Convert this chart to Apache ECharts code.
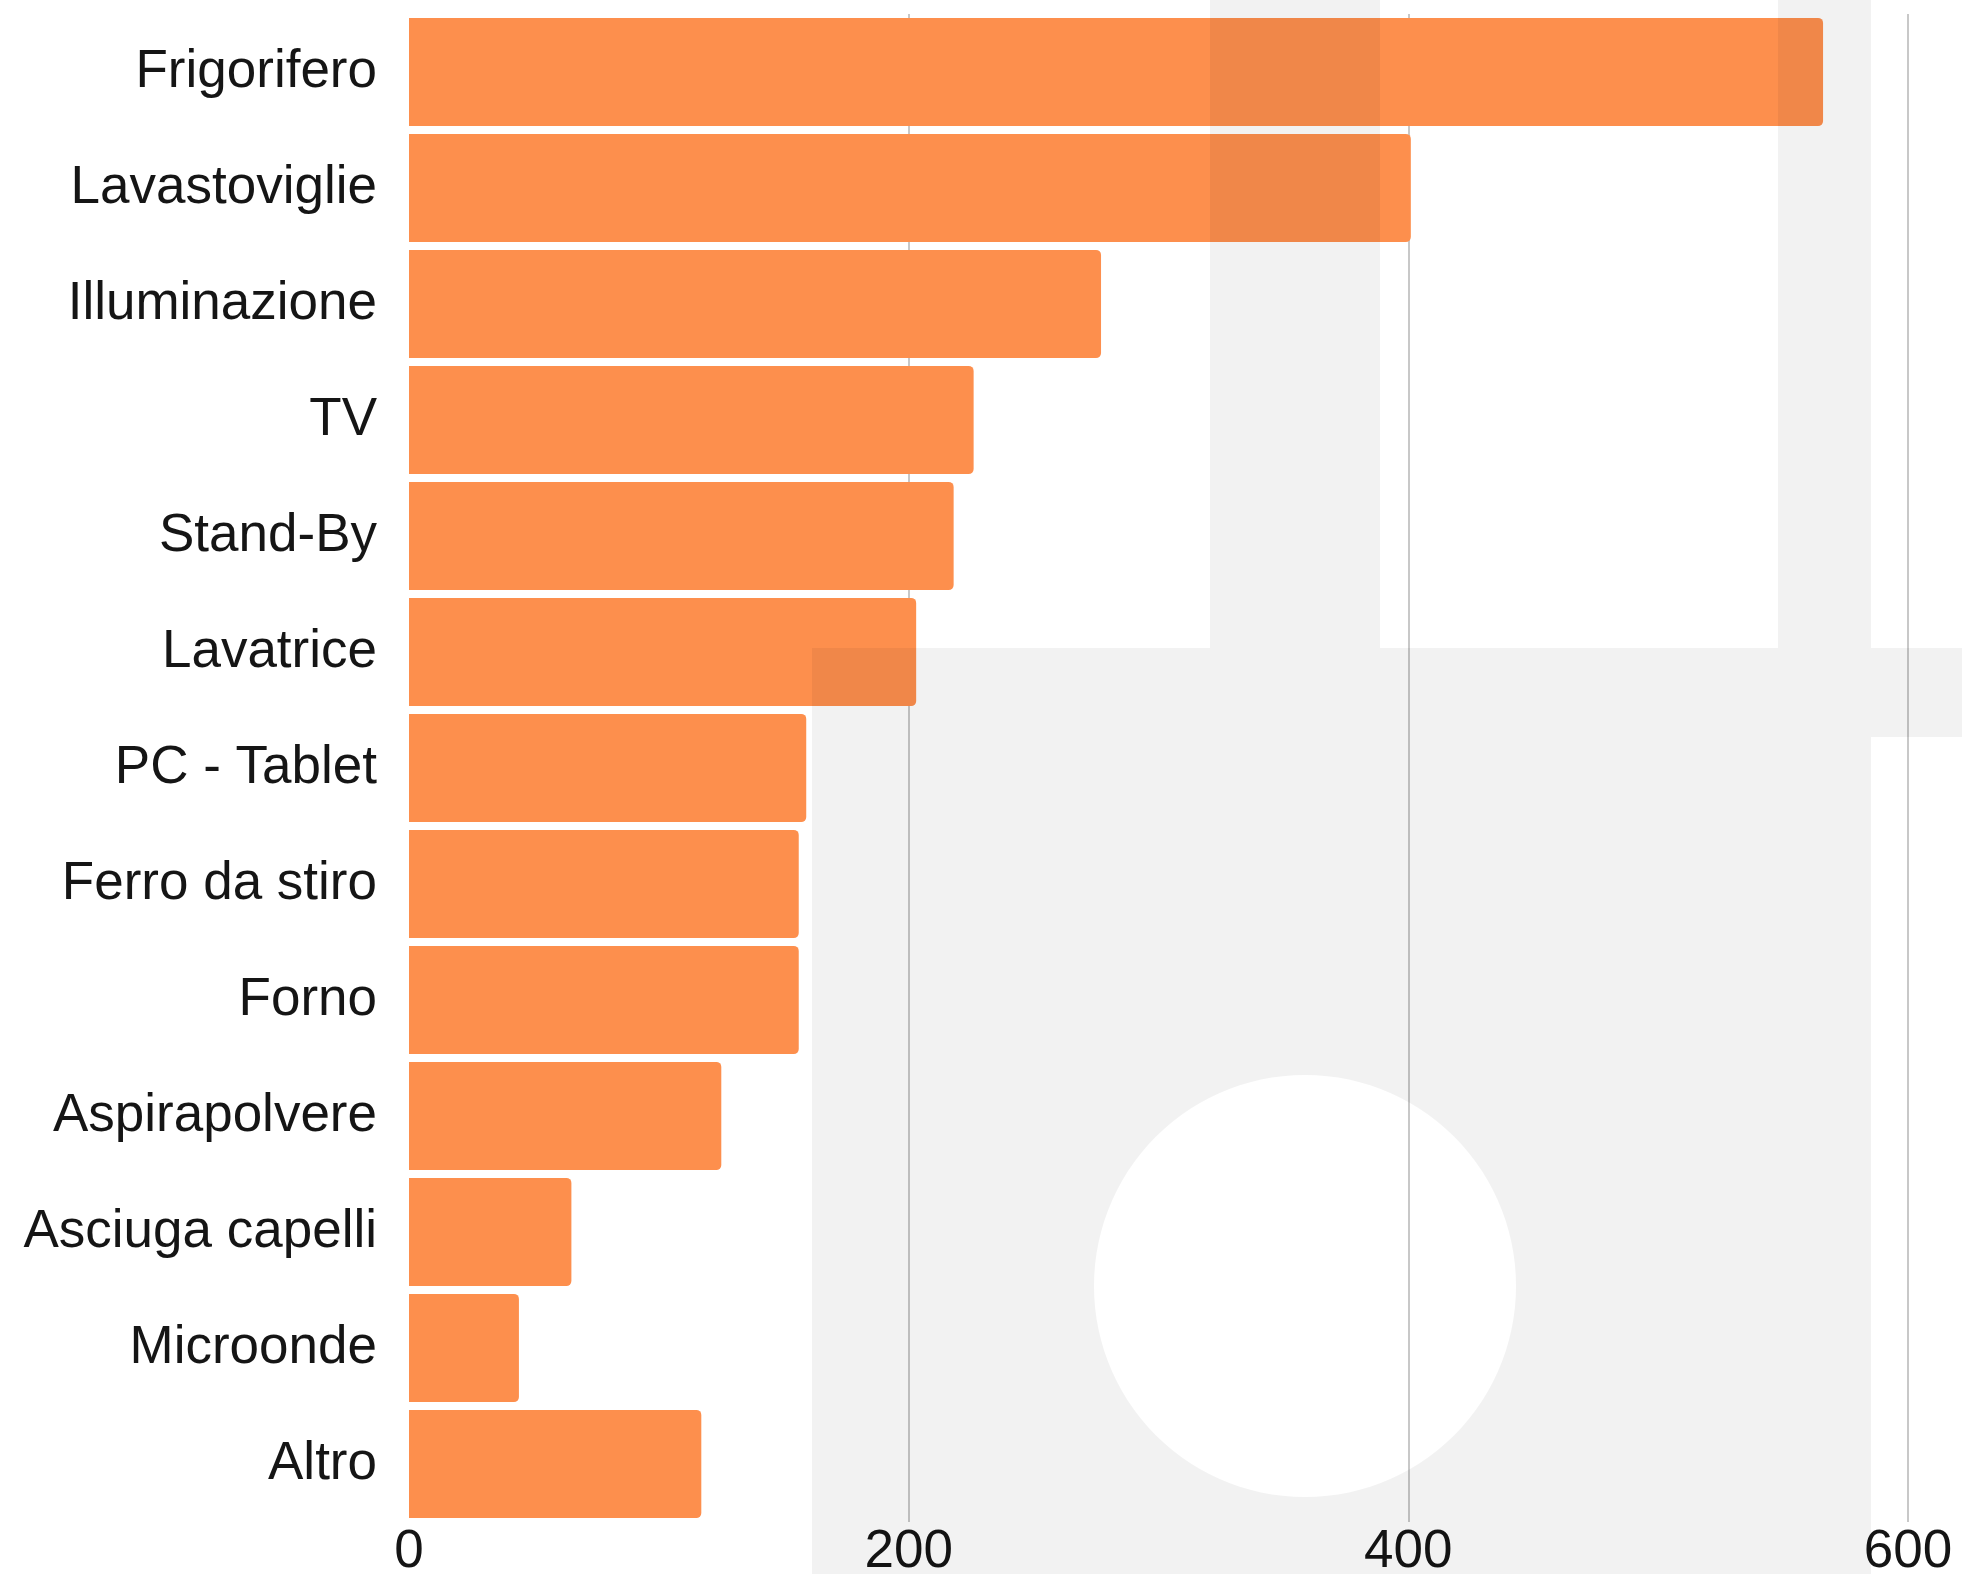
<!DOCTYPE html>
<html>
<head>
<meta charset="utf-8">
<script src="https://cdn.jsdelivr.net/npm/echarts@6/dist/echarts.min.js"></script>
<style>
html,body{margin:0;padding:0;background:#fff;}
#chart{width:1962px;height:1574px;}
</style>
</head>
<body>
<div id="chart"></div>
<script>
const categories = ['Frigorifero','Lavastoviglie','Illuminazione','TV','Stand-By','Lavatrice','PC - Tablet','Ferro da stiro','Forno','Aspirapolvere','Asciuga capelli','Microonde','Altro'];
const values = [566, 401, 277, 226, 218, 203, 159, 156, 156, 125, 65, 44, 117];
const xTicks = [0, 200, 400, 600];

// faint background watermark (decoration only)
function watermarkPoints() {
  const outer = [[1305,1574],[812,1574],[812,648],[1210,648],[1210,0],[1380,0],[1380,648],[1778,648],[1778,0],[1871,0],[1871,648],[1962,648],[1962,737],[1871,737],[1871,1574],[1305,1574]];
  const cx = 1305, cy = 1286, r = 211, n = 120;
  const pts = outer.slice();
  for (let i = 0; i <= n; i++) {
    const a = (90 - 360 * i / n) * Math.PI / 180;
    pts.push([cx + r * Math.cos(a), cy + r * Math.sin(a)]);
  }
  return pts;
}

const chart = echarts.init(document.getElementById('chart'), null, {renderer: 'canvas'});
const font = "'Liberation Sans', Arial, sans-serif";
chart.setOption({
  backgroundColor: '#ffffff',
  animation: false,
  grid: {left: 409, right: 54, top: 14, bottom: 52, containLabel: false, outerBoundsMode: 'none'},
  xAxis: {
    type: 'value',
    min: xTicks[0],
    max: xTicks[xTicks.length - 1],
    interval: 200,
    axisLine: {show: false},
    axisTick: {show: false},
    axisLabel: {fontFamily: font, fontSize: 53, color: '#151515', margin: 4},
    splitLine: {show: true, showMinLine: false, lineStyle: {color: '#c8c8c8', width: 2}}
  },
  yAxis: {
    type: 'category',
    data: categories,
    inverse: true,
    axisLine: {show: false},
    axisTick: {show: false},
    axisLabel: {fontFamily: font, fontSize: 53, color: '#151515', margin: 32},
    splitLine: {show: false}
  },
  series: [{
    type: 'bar',
    data: values,
    barCategoryGap: '6.7%',
    itemStyle: {color: '#fd8f4d', borderRadius: [0, 5, 5, 0]}
  }],
  graphic: [{
    type: 'polygon',
    silent: true,
    z: 50,
    shape: {points: watermarkPoints()},
    style: {fill: 'rgba(0,0,0,0.05)', stroke: null}
  }]
});
</script>
</body>
</html>
